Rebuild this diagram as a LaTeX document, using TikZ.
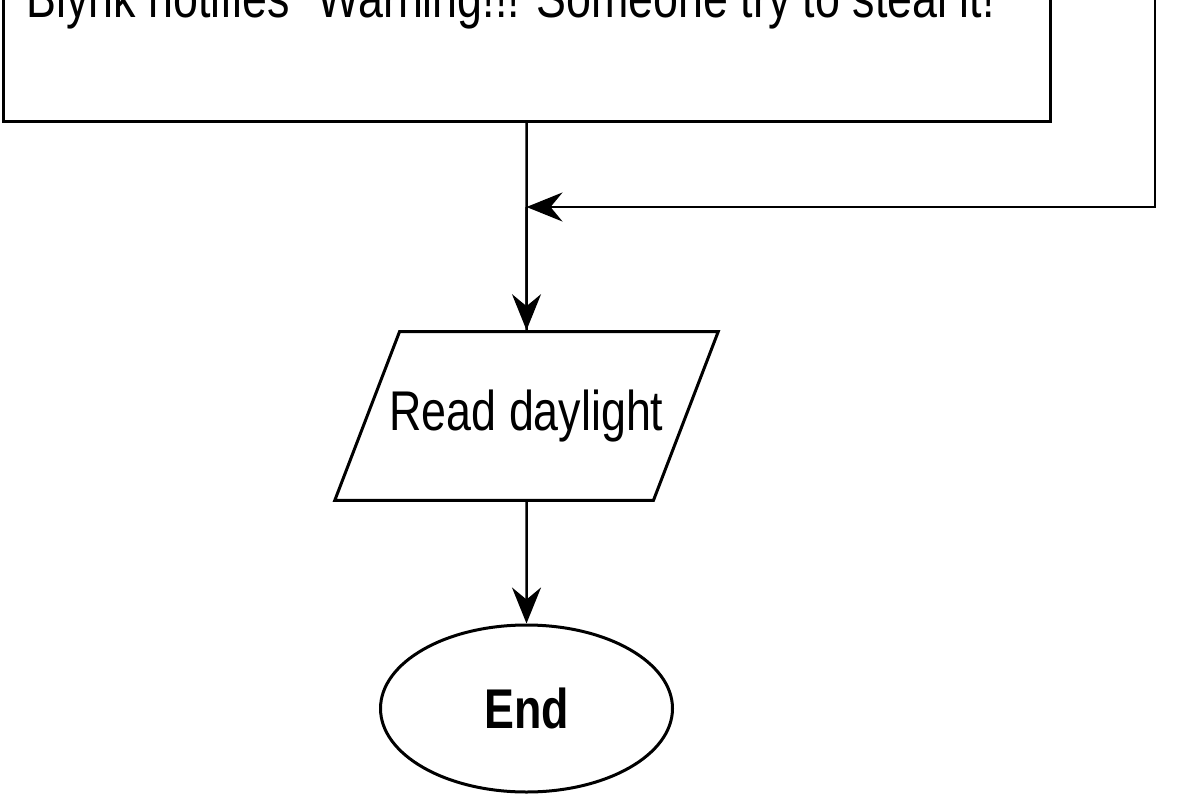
\documentclass[tikz,border=0pt]{standalone}
\usepackage{fontspec}
\setmainfont[FakeStretch=0.8]{Liberation Sans}
\usepackage{tikz}
\usetikzlibrary{shapes.geometric}
\usetikzlibrary{arrows.meta}
\tikzset{box/.style={draw,line width=3pt,rectangle},
 io/.style={draw,line width=3pt,trapezium,trapezium left angle=69,
  trapezium right angle=111,inner xsep=-10pt,inner ysep=58.2pt},
 term/.style={draw,line width=3pt,ellipse,minimum width=292pt,
  minimum height=167pt,inner sep=0pt},
 flow/.style={draw,line width=2.5pt,-{Stealth[length=36pt,width=29pt,inset=12pt]}},
 every node/.style={font=\fontsize{56}{60}\selectfont},
 }

\begin{document}
\begin{tikzpicture}[x=1pt,y=-1pt]
        \clip (0,0) rectangle (1183,797);
        \node[box,minimum width=1047pt,minimum height=260pt,anchor=south] (notify) at (526.5,123) {};
        \node[anchor=base] (warn) at (518,18) {Blynk notifies "Warning!!! Someone try to steal it!"};
        \node[io] (read) at (526.5,416) {Read daylight};
        \node[term] (end) at (526.5,708.5) {\bfseries End};
        \coordinate (loop) at (1155,0);
        \coordinate (merge) at (526.5,207);
        \draw[line width=2.5pt] (notify.south) -- (read.north);
        \draw[flow] (loop) |- (merge);
        \draw[flow] (merge) -- (read.north);
        \draw[flow] (read.south) -- (end.north);
    \end{tikzpicture}
\end{document}
